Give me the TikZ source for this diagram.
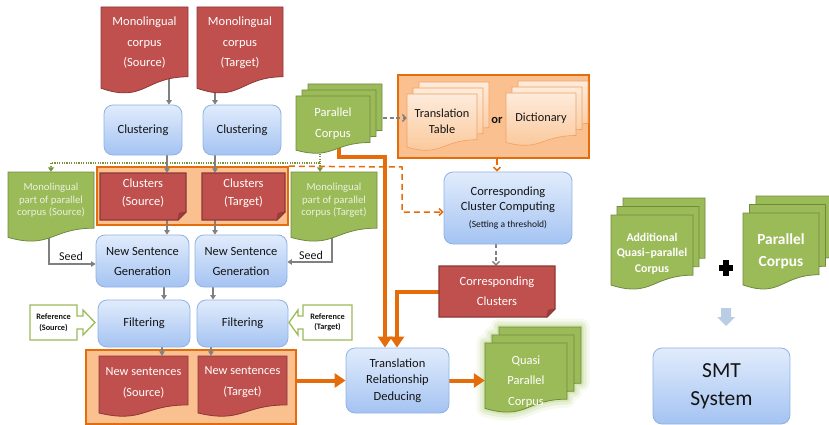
\documentclass[tikz,border=0pt]{standalone}
\usepackage{fontspec}
\setmainfont{Carlito}
\usetikzlibrary{arrows.meta}
\pgfdeclarelayer{frames}
\pgfdeclarelayer{links}
\pgfsetlayers{frames,links,main}

\definecolor{redfill}{HTML}{C0504D}
\definecolor{redline}{HTML}{8C3836}
\definecolor{redfold}{HTML}{9A3F3C}
\definecolor{grnfill}{HTML}{9BBB59}
\definecolor{grnline}{HTML}{71893F}
\definecolor{grntext}{HTML}{EBF1DE}
\definecolor{boxtop}{HTML}{E1ECFC}
\definecolor{boxbot}{HTML}{A4C3F2}
\definecolor{boxline}{HTML}{8EB2E4}
\definecolor{framefill}{HTML}{FAC090}
\definecolor{orangeline}{HTML}{E46C0A}
\definecolor{orgtop}{HTML}{FEEBDB}
\definecolor{orgbot}{HTML}{FAC595}
\definecolor{orgline}{HTML}{F2A060}
\definecolor{linkgray}{HTML}{808080}
\definecolor{dotgreen}{HTML}{77933C}
\definecolor{glowA}{HTML}{F5F9EE}
\definecolor{glowB}{HTML}{E7F0D6}
\definecolor{glowC}{HTML}{D6E7B6}
\definecolor{arrowblue}{HTML}{B9CDE5}
\definecolor{txt}{HTML}{141414}

% flowchart "document" outline inside the box (x1,y1)-(x2,y2)
\newcommand\docpath[5]{%
  \pgfmathsetmacro\dsXa{#2}\pgfmathsetmacro\dsYa{#3}%
  \pgfmathsetmacro\dsXb{#4}\pgfmathsetmacro\dsYb{#5}%
  \pgfmathsetmacro\dsXm{(\dsXa+\dsXb)/2}%
  \pgfmathsetmacro\dsYr{\dsYa+0.802*(\dsYb-\dsYa)}%
  \pgfmathsetmacro\dsYl{\dsYa+0.934*(\dsYb-\dsYa)}%
  \pgfmathsetmacro\dsYc{\dsYa+1.107*(\dsYb-\dsYa)}%
  \path[#1] (\dsXa,\dsYa) -- (\dsXb,\dsYa) -- (\dsXb,\dsYr)
    .. controls (\dsXm,\dsYr) and (\dsXm,\dsYc) .. (\dsXa,\dsYl) -- cycle;}
% document outline plus a named node covering its box
\newcommand\docshape[6]{%
  \docpath{#1}{#3}{#4}{#5}{#6}%
  \node[boxsize={#5-#3}{#6-#4}] (#2) at ({(#3+#5)/2},{(#4+#6)/2}) {};}
% stack of three documents, offset by (dx,dy)
\newcommand\multidoc[8]{%
  \docpath{#1}{#3+2*(#7)}{#4-2*(#8)}{#5+2*(#7)}{#6-2*(#8)}%
  \docpath{#1}{#3+#7}{#4-#8}{#5+#7}{#6-#8}%
  \docshape{#1}{#2}{#3}{#4}{#5}{#6}}
% note with a folded lower right corner
\newcommand\noteshape[7]{%
  \path[#1] (#3,#4) -- (#5,#4) -- (#5,{#6-#7}) -- ({#5-#7},#6) -- (#3,#6) -- cycle;
  \filldraw[fill=redfold,draw=redline,line width=0.6pt] (#5,{#6-#7}) -- ({#5-0.85*#7},{#6-0.85*#7}) -- ({#5-#7},#6) -- cycle;
  \node[boxsize={#5-#3}{#6-#4}] (#2) at ({(#3+#5)/2},{(#4+#6)/2}) {};}

\tikzset{
  boxsize/.style 2 args={inner sep=0pt, minimum width={#1}, minimum height={#2}},
  bluebox/.style={draw=boxline, line width=0.8pt, rounded corners=9pt,
    top color=boxtop, bottom color=boxbot, text=txt, align=center, inner sep=0pt,
    font=\fontsize{12.5}{20}\selectfont},
  reddoc/.style={fill=redfill, draw=redline, line width=0.8pt},
  rednote/.style={fill=redfill, draw=redline, line width=1.3pt},
  greendoc/.style={fill=grnfill, draw=grnline, line width=0.8pt},
  orgdoc/.style={top color=orgtop, bottom color=orgbot, draw=orgline, line width=0.6pt},
  oframe/.style={fill=framefill, draw=orangeline, line width=1.6pt, inner sep=0pt},
  refbox/.style={fill=white, draw=grnfill, line width=1.3pt},
  wtxt/.style={text=white, align=center, inner sep=0pt},
  dtxt/.style={text=txt, align=center, inner sep=0pt},
  garrow/.style={draw=linkgray, line width=1.3pt, -{Triangle[length=4.5pt,width=5.5pt]}},
  gdash/.style={draw=linkgray, line width=1.3pt, dash pattern=on 4pt off 2.5pt,
    -{Straight Barb[length=3.5pt,width=7pt]}},
  odash/.style={draw=orangeline, line width=1.5pt, dash pattern=on 6pt off 4pt,
    -{Straight Barb[length=3.5pt,width=7pt]}},
  obig/.style={draw=orangeline, line width=4pt, -{Triangle[length=11pt,width=14pt]}},
  gdot/.style={draw=dotgreen, line width=1.2pt, dash pattern=on 1.2pt off 1.2pt,
    -{Triangle[length=4.5pt,width=6pt]}},
}

\begin{document}
\begin{tikzpicture}[x=1pt,y=-1pt]
\useasboundingbox (0,0) rectangle (829,425);

% ---------- orange frames ----------
\begin{pgfonlayer}{frames}
  \node[oframe, minimum width=191, minimum height=58] (clf) at (192.5,196) {};
  \node[oframe, minimum width=210, minimum height=74] (nsf) at (191,387) {};
  \node[oframe, minimum width=191, minimum height=83] (ttf) at (493.5,116.5) {};
  % soft green halo behind the quasi parallel corpus
  \foreach \gw/\gc in {17/glowA,11/glowB,5/glowC}{
    \docpath{draw=\gc,fill=\gc,line width=\gw,line join=round}{499}{327}{581}{397}
    \docpath{draw=\gc,fill=\gc,line width=\gw,line join=round}{492}{335}{574}{405}
    \docpath{draw=\gc,fill=\gc,line width=\gw,line join=round}{485}{343}{567}{413}
  }
\end{pgfonlayer}

% ---------- monolingual corpora ----------
\docshape{reddoc}{mcS}{101}{7}{188}{94}
\docshape{reddoc}{mcT}{197}{7}{283}{94}
\node[wtxt, font=\fontsize{12.5}{20.5}\selectfont] (mcS-t) at (144.5,43) {Monolingual\\corpus\\(Source)};
\node[wtxt, font=\fontsize{12.5}{20.5}\selectfont] (mcT-t) at (240,43) {Monolingual\\corpus\\(Target)};

% ---------- clustering ----------
\node[bluebox, minimum width=78, minimum height=50] (cl1) at (143,130) {Clustering};
\node[bluebox, minimum width=78, minimum height=50] (cl2) at (242,130) {Clustering};

% ---------- parallel corpus ----------
\multidoc{greendoc}{pc}{296}{96}{370}{154}{6}{6}
\node[wtxt, font=\fontsize{12.5}{21}\selectfont] (pc-t) at (333,123.5) {Parallel\\Corpus};

% ---------- translation table / dictionary ----------
\multidoc{orgdoc}{tt}{407}{94}{477}{151}{6}{6}
\multidoc{orgdoc}{dict}{506}{93}{576}{146}{6}{6}
\node[dtxt, font=\fontsize{12.3}{16}\selectfont] (tt-t) at (442,121) {Translation\\Table};
\node[dtxt, font=\fontsize{12.3}{16}\selectfont] (dict-t) at (541,118) {Dictionary};
\node[dtxt, font=\bfseries\fontsize{12.5}{15}\selectfont] (or-t) at (497,120) {or};

% ---------- corresponding cluster computing ----------
\node[bluebox, minimum width=128, minimum height=72, font=\fontsize{12.5}{15}\selectfont] (ccc) at (508,208)
  {Corresponding\\Cluster Computing\\[2pt]{\fontsize{9.5}{11}\selectfont (Setting a threshold)}};

% ---------- clusters ----------
\noteshape{rednote}{clS}{100}{173}{186}{220}{8}
\noteshape{rednote}{clT}{202}{173}{285}{220}{8}
\node[wtxt, font=\fontsize{12.5}{18}\selectfont] (clS-t) at (143,193) {Clusters\\(Source)};
\node[wtxt, font=\fontsize{12.5}{18}\selectfont] (clT-t) at (243.5,193) {Clusters\\(Target)};

% ---------- monolingual parts of the parallel corpus ----------
\docshape{greendoc}{mpS}{8}{172}{94}{242}
\docshape{greendoc}{mpT}{291}{172}{377}{242}
\node[text=grntext, align=center, inner sep=0pt, font=\fontsize{10.7}{12.5}\selectfont] (mpS-t) at (51,200.5)
  {Monolingual\\part of parallel\\corpus (Source)};
\node[text=grntext, align=center, inner sep=0pt, font=\fontsize{10.7}{12.5}\selectfont] (mpT-t) at (334,200.5)
  {Monolingual\\part of parallel\\corpus (Target)};

% ---------- generation and filtering ----------
\node[bluebox, minimum width=93, minimum height=52] (nsg1) at (142.5,261) {New Sentence\\Generation};
\node[bluebox, minimum width=92, minimum height=52] (nsg2) at (241,261) {New Sentence\\Generation};
\node[bluebox, minimum width=92, minimum height=47] (fil1) at (144,323.5) {Filtering};
\node[bluebox, minimum width=91, minimum height=47] (fil2) at (242.5,323.5) {Filtering};
\node[dtxt, font=\fontsize{12}{14}\selectfont] (seedS) at (71,256.5) {Seed};
\node[dtxt, font=\fontsize{12}{14}\selectfont] (seedT) at (311,255.5) {Seed};

% ---------- reference callouts ----------
\path[refbox] (30,305) -- (77,305) -- (77,316) -- (83,316) -- (83,310) -- (95,322.5)
  -- (83,335) -- (83,329) -- (77,329) -- (77,340) -- (30,340) -- cycle;
\path[refbox] (303,305) -- (352,305) -- (352,340) -- (303,340) -- (303,329) -- (298,329)
  -- (298,335) -- (289,322.5) -- (298,310) -- (298,316) -- (303,316) -- cycle;
\node[dtxt, font=\bfseries\fontsize{8.3}{10.5}\selectfont] (refS) at (53.5,322.5) {Reference\\(Source)};
\node[dtxt, font=\bfseries\fontsize{8.3}{10.5}\selectfont] (refT) at (327.5,322.5) {Reference\\(Target)};

% ---------- new sentences ----------
\docshape{reddoc}{nsS}{99}{356}{188}{417}
\docshape{reddoc}{nsT}{198}{356}{287}{417}
\node[wtxt, font=\fontsize{12.3}{21}\selectfont] (nsS-t) at (143.5,382.5) {New sentences\\(Source)};
\node[wtxt, font=\fontsize{12.3}{21}\selectfont] (nsT-t) at (242.5,382.5) {New sentences\\(Target)};

% ---------- corresponding clusters, deduction, result ----------
\noteshape{rednote}{cc}{439}{266}{555}{317}{8}
\node[wtxt, font=\fontsize{12.5}{20}\selectfont] (cc-t) at (497,291) {Corresponding\\Clusters};
\node[bluebox, minimum width=103, minimum height=65, font=\fontsize{12.5}{16.5}\selectfont] (trd) at (397.5,380.5)
  {Translation\\Relationship\\Deducing};
\multidoc{greendoc}{qpc}{485}{343}{567}{413}{7}{8}
\node[wtxt, font=\fontsize{12.5}{20.5}\selectfont] (qpc-t) at (526,381.5) {Quasi\\Parallel\\Corpus};

% ---------- SMT training data ----------
\multidoc{greendoc}{add}{611}{215}{693}{290}{6}{8.5}
\node[wtxt, font=\bfseries\fontsize{11.8}{15.5}\selectfont] (add-t) at (652,253.5) {Additional\\Quasi–parallel\\Corpus};
\multidoc{greendoc}{pcr}{743}{213}{819}{290}{6.5}{8.5}
\node[wtxt, font=\bfseries\fontsize{15.4}{22}\selectfont] (pcr-t) at (781,251) {Parallel\\Corpus};
% plus sign
\fill[black] (719,265) rectangle (733,270.5);
\fill[black] (723.3,260) rectangle (728.7,275.5);
% block arrow down
\fill[arrowblue] (721,308) -- (731,308) -- (731,317) -- (735,317) -- (726,326)
  -- (717,317) -- (721,317) -- cycle;
\node[bluebox, minimum width=137, minimum height=76, font=\fontsize{21.5}{28}\selectfont] (smt) at (721.5,386)
  {SMT\\System};

% ---------- connectors ----------
\begin{pgfonlayer}{links}
  \draw[garrow] (169,0 |- mcS.center) -- (169,0 |- cl1.north);
  \draw[garrow] (215,0 |- mcT.center) -- (215,0 |- cl2.north);
  \draw[garrow] (167,0 |- cl1.south) -- (167,0 |- clS.north);
  \draw[garrow] (215,0 |- cl2.south) -- (215,0 |- clT.north);
  \draw[garrow] (167,0 |- clS.south) -- (167,0 |- nsg1.north);
  \draw[garrow] (215,0 |- clT.south) -- (215,0 |- nsg2.north);
  \draw[garrow] (164,0 |- nsg1.south) -- (164,0 |- fil1.north);
  \draw[garrow] (213,0 |- nsg2.south) -- (213,0 |- fil2.north);
  \draw[garrow] (162,0 |- fil1.south) -- (162,0 |- nsS.north);
  \draw[garrow] (211,0 |- fil2.south) -- (211,0 |- nsT.north);
  % seeds
  \draw[garrow] (49,0 |- mpS.center) |- ([yshift=-3pt]nsg1.west);
  \draw[garrow] (332,0 |- mpT.center) |- ([yshift=-1pt]nsg2.east);
  % parallel corpus split into its monolingual parts
  \draw[gdot] (320,0 |- pc.center) -- (320,163) -| (mpS.north);
  \draw[gdot] (320,163) -- (320,0 |- mpT.north);
  % lexical resources
  \draw[gdash] (pc.east |- 0,118) -- (tt.west |- 0,118);
  \draw[odash] (497,0 |- ttf.south) -- (497,0 |- ccc.north);
  \draw[odash] (clf.north east) -- (402,167) -- (402,212) -- (ccc.west |- 0,212);
  \draw[gdash] (496,0 |- ccc.south) -- (496,0 |- cc.north);
  % inputs of the deduction step
  \draw[obig] (339,0 |- pc.center) |- (385,157) -- (385,0 |- trd.north);
  \draw[obig] (cc.west) -| (397,0 |- trd.north);
  \draw[obig] (nsf.east |- trd.west) -- (trd.west);
  \draw[obig] (trd.east) -- (trd.east -| qpc.west);
\end{pgfonlayer}
\end{tikzpicture}
\end{document}
